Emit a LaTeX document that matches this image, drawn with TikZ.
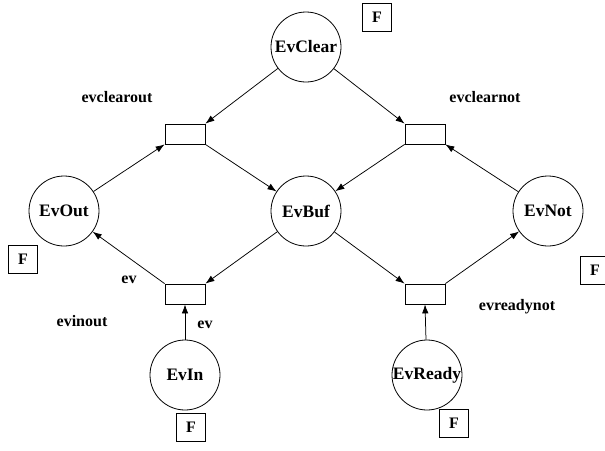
\documentclass[tikz,border=0pt]{standalone}
\usepackage{fontspec}
\setmainfont{Liberation Serif}
\usetikzlibrary{arrows.meta}
\begin{document}
\begin{tikzpicture}[x=1pt,y=-1pt,
  font=\fontsize{16}{18}\selectfont\bfseries,
  place/.style={draw,circle,minimum size=70pt,inner sep=0pt,line width=0.8pt,font=\fontsize{17.5}{20}\selectfont\bfseries},
  trans/.style={draw,rectangle,minimum width=40pt,minimum height=20pt,inner sep=0pt,line width=0.8pt},
  fbox/.style={draw,rectangle,minimum width=29pt,minimum height=28pt,inner sep=0pt,line width=0.8pt},
  lbl/.style={inner sep=0pt},
  arc/.style={-{Latex[length=9pt,width=6.5pt]},line width=0.75pt}]
\useasboundingbox (0,0) rectangle (605,450);
\node[place] (clear) at (306,47) {EvClear};
\node[place] (out) at (64,211) {EvOut};
\node[place] (buf) at (306,211) {EvBuf};
\node[place] (not) at (548,211) {EvNot};
\node[place] (in) at (185,375) {EvIn};
\node[place] (ready) at (427,375) {EvReady};
\node[trans] (tl) at (185,134) {};
\node[trans] (tr) at (425,134) {};
\node[trans] (bl) at (185,294) {};
\node[trans] (br) at (425,294) {};
\node[fbox] (f1) at (377,17) {F};
\node[fbox] (f2) at (23,259) {F};
\node[fbox] (f3) at (595,270) {F};
\node[fbox] (f4) at (191,427) {F};
\node[fbox] (f5) at (454,423) {F};
\node[lbl] (l1) at (117,97) {evclearout};
\node[lbl] (l2) at (485,97) {evclearnot};
\node[lbl] (l3) at (129,280) {ev};
\node[lbl] (l4) at (82,321) {evinout};
\node[lbl] (l5) at (205,325) {ev};
\node[lbl] (l6) at (517,307) {evreadynot};
\draw[arc] (clear) -- (tl.north east);
\draw[arc] (clear) -- (tr.north west);
\draw[arc] (out) -- (tl.south west);
\draw[arc] (tl.south east) -- (buf);
\draw[arc] (tr.south west) -- (buf);
\draw[arc] (not) -- (tr.south east);
\draw[arc] (buf) -- (bl.north east);
\draw[arc] (bl.north west) -- (out);
\draw[arc] (in) -- (bl.south);
\draw[arc] (buf) -- (br.north west);
\draw[arc] (br.north east) -- (not);
\draw[arc] (ready) -- (br.south);
\end{tikzpicture}
\end{document}
